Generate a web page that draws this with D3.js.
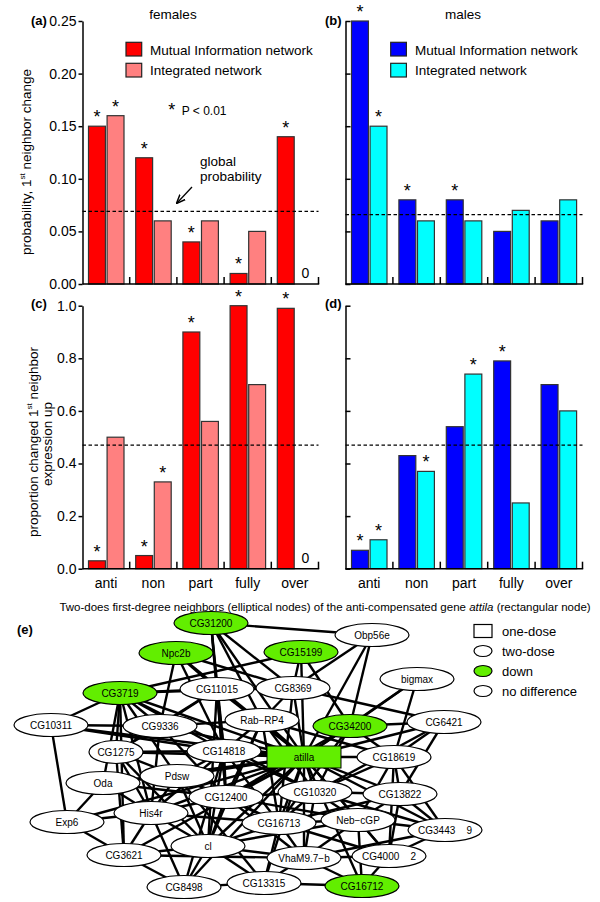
<!DOCTYPE html>
<html><head><meta charset="utf-8">
<script src="https://cdn.jsdelivr.net/npm/d3@7/dist/d3.min.js"></script>
<style>
body{margin:0;background:#fff;}
svg{display:block;font-family:"Liberation Sans",Arial,Helvetica,sans-serif;}
</style></head>
<body><svg id="c" width="600" height="902"></svg>
<script>
// ---------------- data ----------------
const categories = ["anti","non","part","fully","over"];
const seriesNames = ["Mutual Information network","Integrated network"];
const femalesProbMI  = [0.15,0.12,0.04,0.01,0.14];
const femalesProbInt = [0.16,0.06,0.06,0.05,0];
const malesProbMI    = [0.25,0.08,0.08,0.05,0.06];
const malesProbInt   = [0.15,0.06,0.06,0.07,0.08];
const femalesUpMI    = [0.03,0.05,0.90,1.00,0.99];
const femalesUpInt   = [0.50,0.33,0.56,0.70,0];
const malesUpMI      = [0.07,0.43,0.54,0.79,0.70];
const malesUpInt     = [0.11,0.37,0.74,0.25,0.60];
const sigFemProbMI = [1,1,1,1,1], sigFemProbInt = [1,0,0,0,0];
const sigMalProbMI = [1,1,1,0,0], sigMalProbInt = [1,0,0,0,0];
const sigFemUpMI   = [1,1,1,1,1], sigFemUpInt   = [0,1,0,0,0];
const sigMalUpMI   = [1,0,0,1,0], sigMalUpInt   = [1,1,1,0,0];
const globalProb = [0.069, 0.066];
const globalUp   = [0.47, 0.47];
const probTicks = [0,0.05,0.10,0.15,0.20,0.25];
const propTicks = [0,0.2,0.4,0.6,0.8,1.0];

// network (layout coordinates) and edges
const netNodes = [
 ["CG31200",211,23,"down"],["Obp56e",372,35,"nd"],["Npc2b",176,53,"down"],["CG15199",301,52,"down"],
 ["CG3719",120,93,"down"],["CG11015",217,89,"nd"],["CG8369",293,88,"nd"],["bigmax",417,79,"nd"],
 ["CG10311",51,125,"nd"],["CG9336",160,126,"nd"],["Rab\u2212RP4",262,120,"nd"],["CG34200",350,126,"down"],
 ["CG6421",444,122,"nd"],["CG1275",116,152,"nd"],["CG14818",224,151,"nd"],["CG18619",394,157,"nd"],
 ["Pdsw",177,176,"nd"],["Oda",103,183,"nd"],["CG10320",315,192,"nd"],["CG13822",400,194,"nd"],
 ["CG12400",226,197,"nd"],["His4r",151,213,"nd"],["Neb\u2212cGP",358,220,"nd"],["Exp6",67,222,"nd"],
 ["CG16713",279,223,"nd"],["CG3443    9",445,230,"nd"],["cl",208,246,"nd"],["CG3621",124,255,"nd"],
 ["VhaM9.7\u2212b",304,258,"nd"],["CG4000    2",389,256,"nd"],["CG8498",184,287,"nd"],["CG13315",264,283,"nd"],
 ["CG16712",362,286,"down"]
];
const hub = ["atilla",304,157];
const netEdges = [
 ["CG31200","Obp56e"],["CG31200","CG11015"],["CG31200","CG8369"],["CG31200","Rab\u2212RP4"],["CG31200","CG14818"],["CG31200","CG12400"],
 ["Npc2b","CG11015"],["Npc2b","CG8369"],["Npc2b","CG14818"],["Npc2b","CG9336"],
 ["CG15199","CG8369"],["CG15199","CG34200"],["CG15199","CG3719"],
 ["Obp56e","CG34200"],["Obp56e","CG8369"],["bigmax","CG34200"],["bigmax","CG18619"],
 ["CG8369","CG6421"],["CG8369","CG3719"],["CG8369","CG11015"],["CG8369","Rab\u2212RP4"],["CG8369","CG16713"],
 ["CG3719","CG11015"],["CG3719","CG9336"],["CG3719","CG1275"],["CG3719","Pdsw"],["CG3719","His4r"],["CG3719","CG3621"],["CG3719","CG14818"],["CG3719","CG10320"],["CG3719","Oda"],
 ["CG10311","CG9336"],["CG10311","CG14818"],["CG10311","Exp6"],["CG10311","CG3719"],
 ["CG11015","CG9336"],["CG11015","CG1275"],["CG11015","CG12400"],["CG11015","cl"],["CG11015","CG14818"],
 ["CG9336","CG1275"],["CG9336","Rab\u2212RP4"],["CG9336","CG12400"],["CG9336","His4r"],
 ["Rab\u2212RP4","CG14818"],["Rab\u2212RP4","CG12400"],["Rab\u2212RP4","CG16713"],["Rab\u2212RP4","cl"],["Rab\u2212RP4","CG10320"],["Rab\u2212RP4","CG18619"],
 ["CG34200","CG18619"],["CG34200","CG10320"],["CG34200","CG6421"],["CG34200","CG12400"],["CG34200","CG16713"],
 ["CG6421","CG18619"],["CG6421","CG13822"],["CG6421","CG10320"],
 ["CG1275","CG14818"],["CG1275","Pdsw"],["CG1275","His4r"],["CG1275","cl"],["CG1275","CG3621"],
 ["CG14818","Pdsw"],["CG14818","CG12400"],["CG14818","CG16713"],["CG14818","cl"],["CG14818","CG10320"],["CG14818","His4r"],["CG14818","CG8498"],
 ["CG18619","CG13822"],["CG18619","CG3443    9"],["CG18619","Neb\u2212cGP"],["CG18619","CG10320"],["CG18619","CG4000    2"],
 ["Pdsw","Oda"],["Pdsw","CG12400"],["Pdsw","His4r"],["Pdsw","cl"],["Pdsw","CG16713"],["Pdsw","CG13315"],
 ["Oda","His4r"],["Oda","Exp6"],["Oda","CG12400"],
 ["CG10320","CG16713"],["CG10320","Neb\u2212cGP"],["CG10320","CG13822"],["CG10320","VhaM9.7\u2212b"],["CG10320","CG3443    9"],
 ["CG13822","CG3443    9"],["CG13822","Neb\u2212cGP"],["CG13822","CG4000    2"],["CG13822","CG16713"],
 ["CG12400","His4r"],["CG12400","CG16713"],["CG12400","cl"],["CG12400","CG10320"],["CG12400","Neb\u2212cGP"],["CG12400","VhaM9.7\u2212b"],
 ["His4r","Exp6"],["His4r","cl"],["His4r","CG3621"],["His4r","CG8498"],["His4r","CG16713"],
 ["Neb\u2212cGP","CG16713"],["Neb\u2212cGP","CG3443    9"],["Neb\u2212cGP","CG4000    2"],["Neb\u2212cGP","VhaM9.7\u2212b"],["Neb\u2212cGP","CG16712"],["Neb\u2212cGP","cl"],
 ["Exp6","CG3621"],["CG16713","cl"],["CG16713","VhaM9.7\u2212b"],["CG16713","CG4000    2"],["CG16713","CG13315"],
 ["CG3443    9","CG4000    2"],["CG3443    9","VhaM9.7\u2212b"],
 ["cl","CG3621"],["cl","CG8498"],["cl","CG13315"],["cl","VhaM9.7\u2212b"],
 ["CG3621","CG8498"],["CG3621","VhaM9.7\u2212b"],["VhaM9.7\u2212b","CG4000    2"],["VhaM9.7\u2212b","CG13315"],["VhaM9.7\u2212b","CG16712"],
 ["CG4000    2","CG16712"],["CG8498","CG13315"],["CG13315","CG16712"]
];
const legendE = ["one-dose","two-dose","down","no difference"];

// ---------------- drawing ----------------
const svg = d3.select("#c");
const RED="#ff0000", PINK="#ff8080", BLUE="#0000ff", CYAN="#00ffff", GREEN="#62ee00";
const FONT = '"Liberation Sans",Arial,Helvetica,sans-serif';

function panel(o){
  const g = svg.append("g");
  const x = d3.scaleBand().domain(categories).range([o.x0,o.x1]);
  const xs = d3.scaleBand().domain([0,1]).range([6,41.5]).paddingInner(0.09);
  const y = d3.scaleLinear().domain(o.domain).range([o.yb,o.yt]);
  const sets = [{v:o.mi,s:o.sigMI,c:o.c1,i:0},{v:o.int,s:o.sigInt,c:o.c2,i:1}];
  sets.forEach(st=>{
    const data = categories.map((c,k)=>({c,v:st.v[k],s:st.s[k]}));
    g.selectAll(null).data(data.filter(d=>d.v>0)).enter().append("rect")
      .attr("x",d=>x(d.c)+xs(st.i)).attr("width",xs.bandwidth())
      .attr("y",d=>y(d.v)).attr("height",d=>y(0)-y(d.v))
      .attr("fill",st.c).attr("stroke","#333").attr("stroke-width",1.2);
    g.selectAll(null).data(data.filter(d=>d.s)).enter().append("text")
      .attr("x",d=>x(d.c)+xs(st.i)+xs.bandwidth()/2).attr("y",d=>y(d.v)-3)
      .attr("text-anchor","middle").attr("font-size",18).text("*");
    g.selectAll(null).data(data.filter(d=>d.v===0)).enter().append("text")
      .attr("x",d=>x(d.c)+xs(st.i)+xs.bandwidth()/2+1).attr("y",y(0)-6)
      .attr("text-anchor","middle").attr("font-size",14).text("0");
  });
  g.append("line").attr("x1",o.x0).attr("x2",o.x1).attr("y1",y(o.glob)).attr("y2",y(o.glob))
    .attr("stroke","#000").attr("stroke-width",1.3).attr("stroke-dasharray","3.5,2.5");
  let ax;
  if(o.labels){
    ax = d3.axisLeft(y).tickValues(o.ticks).tickSize(4).tickSizeOuter(0).tickPadding(2).tickFormat(d3.format(o.fmt));
  } else {
    ax = d3.axisRight(y).tickValues(o.ticks).tickSize(5).tickSizeOuter(0).tickFormat("");
  }
  const ga = g.append("g").attr("transform",`translate(${o.x0},0)`).call(ax);
  ga.selectAll("path,line").attr("stroke","#000").attr("stroke-width",1.5);
  ga.selectAll("text").attr("font-size",14).attr("font-family",FONT).attr("fill","#000");
  g.append("line").attr("x1",o.x0).attr("x2",o.x1+0.7).attr("y1",y(0)).attr("y2",y(0))
    .attr("stroke","#000").attr("stroke-width",1.5);
  g.selectAll(null).data(categories).enter().append("line")
    .attr("x1",d=>x(d)+x.bandwidth()).attr("x2",d=>x(d)+x.bandwidth())
    .attr("y1",y(0)).attr("y2",y(0)-7).attr("stroke","#000").attr("stroke-width",1.5);
  if(o.catLabels){
    g.selectAll(null).data(categories).enter().append("text")
      .attr("x",d=>x(d)+x.bandwidth()/2).attr("y",y(0)+19).attr("text-anchor","middle")
      .attr("font-size",14).text(d=>d);
  }
  return {x,y,g};
}

panel({x0:82.5,x1:318.5,yb:284,yt:21,domain:[0,0.25],mi:femalesProbMI,int:femalesProbInt,
  sigMI:sigFemProbMI,sigInt:sigFemProbInt,c1:RED,c2:PINK,glob:globalProb[0],ticks:probTicks,fmt:".2f",labels:true});
panel({x0:345.5,x1:582.5,yb:284,yt:21,domain:[0,0.25],mi:malesProbMI,int:malesProbInt,
  sigMI:sigMalProbMI,sigInt:sigMalProbInt,c1:BLUE,c2:CYAN,glob:globalProb[1],ticks:probTicks,labels:false});
panel({x0:82.5,x1:318.5,yb:568.7,yt:305.7,domain:[0,1],mi:femalesUpMI,int:femalesUpInt,
  sigMI:sigFemUpMI,sigInt:sigFemUpInt,c1:RED,c2:PINK,glob:globalUp[0],ticks:propTicks,fmt:".1f",labels:true,catLabels:true});
panel({x0:345.5,x1:582.5,yb:568.7,yt:305.7,domain:[0,1],mi:malesUpMI,int:malesUpInt,
  sigMI:sigMalUpMI,sigInt:sigMalUpInt,c1:BLUE,c2:CYAN,glob:globalUp[1],ticks:propTicks,labels:false,catLabels:true});

function txt(x,y,s,opt={}){
  const t = svg.append("text").attr("x",x).attr("y",y).attr("font-size",opt.size||13.5)
   .attr("text-anchor",opt.anchor||"start").text(s);
  if(opt.bold) t.attr("font-weight","bold");
  return t;
}
txt(173,19,"females",{anchor:"middle"});
txt(463,19,"males",{anchor:"middle"});
txt(31,25,"(a)",{bold:true,size:13});
txt(325,25,"(b)",{bold:true,size:13});
txt(31,308,"(c)",{bold:true,size:13});
txt(325,308,"(d)",{bold:true,size:13});
txt(17,634,"(e)",{bold:true,size:13});

[[RED,PINK],[BLUE,CYAN]].forEach(([c1,c2],i)=>{
  const lx = i===0?126:390.7, ltx = i===0?150:415;
  [c1,c2].forEach((c,k)=>{
    svg.append("rect").attr("x",lx).attr("y",42.3+21*k).attr("width",15.7).attr("height",13.7)
      .attr("fill",c).attr("stroke","#222").attr("stroke-width",1.2);
    txt(ltx,54.5+20.5*k,seriesNames[k]);
  });
});
txt(171.7,116,"*",{size:18,anchor:"middle"});
txt(181.7,115,"P < 0.01",{size:12});
txt(200,166,"global",{size:13.5});
txt(200,181,"probability",{size:13.5});
svg.append("defs").append("marker").attr("id","ah").attr("viewBox","0 0 10 10").attr("refX",9).attr("refY",5)
  .attr("markerWidth",7).attr("markerHeight",7).attr("orient","auto")
  .append("path").attr("d","M0,1 L10,5 L0,9").attr("fill","none").attr("stroke","#000").attr("stroke-width",1.6);
svg.append("line").attr("x1",192).attr("y1",187).attr("x2",177).attr("y2",203)
  .attr("stroke","#000").attr("stroke-width",1.3).attr("marker-end","url(#ah)");

const yl1 = svg.append("text").attr("transform","translate(31,162) rotate(-90)").attr("text-anchor","middle").attr("font-size",13.5);
yl1.append("tspan").text("probability, 1");
yl1.append("tspan").attr("font-size",8).attr("dy",-6).text("st");
yl1.append("tspan").attr("dy",6).text(" neighbor change");
const yl2 = svg.append("text").attr("transform","translate(37.5,442) rotate(-90)").attr("text-anchor","middle").attr("font-size",13.5);
yl2.append("tspan").text("proportion changed 1");
yl2.append("tspan").attr("font-size",8).attr("dy",-6).text("st");
yl2.append("tspan").attr("dy",6).text(" neighbor");
svg.append("text").attr("transform","translate(52,444) rotate(-90)").attr("text-anchor","middle").attr("font-size",13.5).text("expression up");

const bt = svg.append("text").attr("x",325).attr("y",611).attr("text-anchor","middle").attr("font-size",11.5);
bt.append("tspan").text("Two-does first-degree neighbors (elliptical nodes) of the anti-compensated gene ");
bt.append("tspan").attr("font-style","italic").text("attila");
bt.append("tspan").text(" (rectangular node)");

// ---------------- network ----------------
const nx = d3.scaleLinear().domain([0,600]).range([0,600]);
const ny = d3.scaleLinear().domain([0,300]).range([600,900]);
const nodeMap = new Map(netNodes.map(d=>[d[0],d]));
nodeMap.set("atilla",hub);
const allEdges = netEdges.concat(netNodes.map(d=>["atilla",d[0]]));
const ng = svg.append("g");
ng.selectAll(null).data(allEdges).enter().append("line")
  .attr("x1",d=>nx(nodeMap.get(d[0])[1])).attr("y1",d=>ny(nodeMap.get(d[0])[2]))
  .attr("x2",d=>nx(nodeMap.get(d[1])[1])).attr("y2",d=>ny(nodeMap.get(d[1])[2]))
  .attr("stroke","#000").attr("stroke-width",2.4);
const nodeG = ng.selectAll(null).data(netNodes).enter().append("g")
  .attr("transform",d=>`translate(${nx(d[1])},${ny(d[2])})`);
nodeG.append("ellipse").attr("rx",d=>d[0]==="CG1275"?27:37).attr("ry",11.5)
  .attr("fill",d=>d[3]==="down"?GREEN:"#fff").attr("stroke","#000").attr("stroke-width",1.2);
nodeG.append("text").attr("text-anchor","middle").attr("dy",3.6).attr("font-size",10)
  .style("white-space","pre").text(d=>d[0]);
ng.append("rect").attr("x",nx(hub[1])-37).attr("y",ny(hub[2])-11).attr("width",74).attr("height",22)
  .attr("fill",GREEN).attr("stroke","#000").attr("stroke-width",1);
ng.append("text").attr("x",nx(hub[1])).attr("y",ny(hub[2])+3.6).attr("text-anchor","middle").attr("font-size",10).text("atilla");

const le = svg.append("g");
legendE.forEach((s,k)=>{
  const cy = 631+20*k;
  if(k===0) le.append("rect").attr("x",474).attr("y",cy-6.5).attr("width",18).attr("height",13).attr("fill","none").attr("stroke","#000").attr("stroke-width",1.2);
  else le.append("ellipse").attr("cx",483).attr("cy",cy).attr("rx",9).attr("ry",5.5)
      .attr("fill",k===2?GREEN:"#fff").attr("stroke","#000").attr("stroke-width",1.2);
  le.append("text").attr("x",502).attr("y",cy+5).attr("font-size",13).text(s);
});
</script></body></html>
